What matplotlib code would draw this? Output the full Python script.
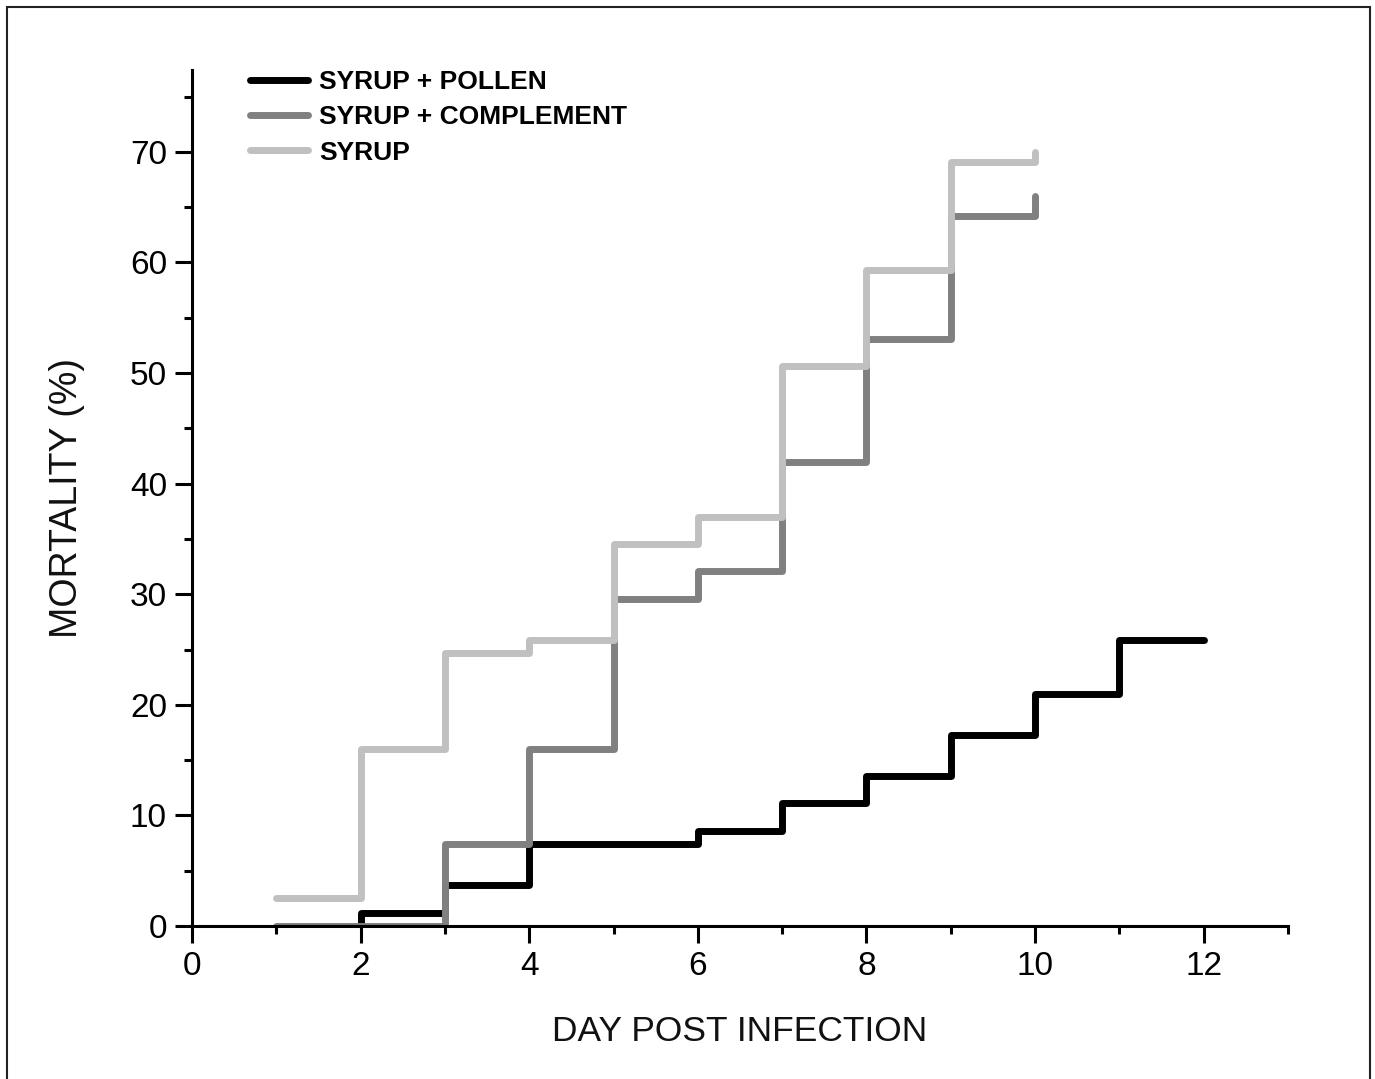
import matplotlib
matplotlib.use("Agg")
import matplotlib.pyplot as plt
from matplotlib.patches import Rectangle
from matplotlib.ticker import MultipleLocator

plt.rcParams['font.family'] = ['Liberation Sans', 'DejaVu Sans']

# mortality (%) per day, step curves
pollen_days = [2, 2, 3, 4, 5, 6, 7, 8, 9, 10, 11, 12]
pollen_vals = [0, 1.2, 3.7, 7.4, 7.4, 8.6, 11.1, 13.6, 17.3, 21.0, 25.9, 25.9]

compl_days = [1, 2, 3, 4, 5, 6, 7, 8, 9, 10, 10]
compl_vals = [0, 0, 7.4, 16.0, 29.6, 32.1, 42.0, 53.1, 64.2, 64.2, 66.0]

syrup_days = [1, 2, 3, 4, 5, 6, 7, 8, 9, 10, 10]
syrup_vals = [2.5, 16.0, 24.7, 25.9, 34.5, 37.0, 50.6, 59.3, 69.1, 69.1, 70.0]

labels = ['SYRUP + POLLEN', 'SYRUP + COMPLEMENT', 'SYRUP']
colors = ['#000000', '#808080', '#c0c0c0']

fig = plt.figure(figsize=(13.75, 10.79), dpi=100)
ax = fig.add_axes([192 / 1375, 153 / 1079, 1096 / 1375, 856 / 1079])

# outer frame around the figure
fig.patches.append(Rectangle((7 / 1375, -0.01), 1363 / 1375, 1.0 - 7 / 1079 + 0.01,
                             transform=fig.transFigure, fill=False,
                             edgecolor='#222222', linewidth=1.5))

lw = 5
series = [(pollen_days, pollen_vals), (compl_days, compl_vals), (syrup_days, syrup_vals)]
handles = []
for (xs, ys), c, lab in zip(series, colors, labels):
    h, = ax.plot(xs, ys, drawstyle='steps-post', color=c, lw=lw,
                 solid_joinstyle='round', solid_capstyle='round', label=lab)
    handles.append(h)

ax.set_xlim(0, 13)
ax.set_ylim(0, 77.4)
ax.xaxis.set_major_locator(MultipleLocator(2))
ax.xaxis.set_minor_locator(MultipleLocator(1))
ax.yaxis.set_major_locator(MultipleLocator(10))
ax.yaxis.set_minor_locator(MultipleLocator(5))

for s in ['top', 'right']:
    ax.spines[s].set_visible(False)
for s in ['left', 'bottom']:
    ax.spines[s].set_linewidth(2.2)

ax.tick_params(which='major', direction='out', length=12, width=2.2,
               labelsize=24, pad=6)
ax.tick_params(which='minor', direction='out', length=6, width=2.2)

ax.set_xlabel('DAY POST INFECTION', fontsize=25.5, labelpad=24, color='#111111')
ax.set_ylabel('MORTALITY (%)', fontsize=27, labelpad=32, color='#111111')

ax.legend(handles, labels, loc='upper left', bbox_to_anchor=(0.041, 1.015),
          frameon=False, prop={'weight': 'bold', 'size': 19}, handlelength=2.2,
          handletextpad=0.4, labelspacing=0.42, borderpad=0)

fig.savefig('out.png', dpi=100)
